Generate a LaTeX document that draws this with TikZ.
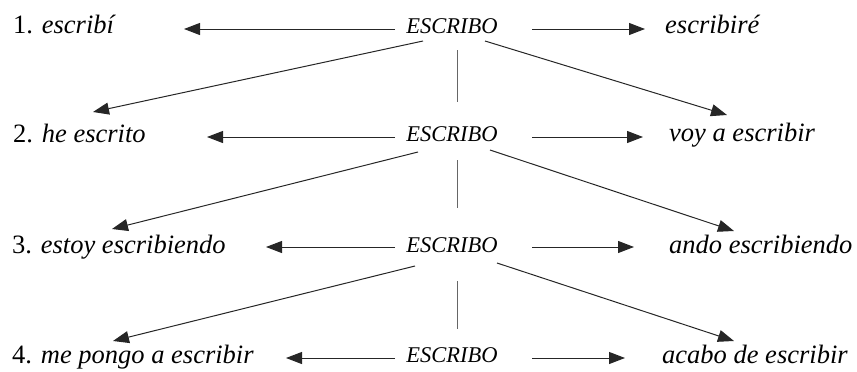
\documentclass[tikz,border=0pt]{standalone}
\usepackage{fontspec}
\setmainfont{Liberation Serif}
\usetikzlibrary{arrows.meta}
\begin{document}
\begin{tikzpicture}[x=1pt,y=-1pt,
  form/.style={anchor=base west,inner sep=0pt,font=\fontsize{26.5}{30}\selectfont},
  verb/.style={anchor=base,inner sep=0pt,font=\fontsize{22.5}{26}\selectfont\itshape},
  link/.style={draw=black!85,line width=1pt,
    -{Triangle[length=16pt,width=12pt]}},
  tie/.style={draw=black!60,line width=0.9pt}]
\useasboundingbox (0,0) rectangle (857,372);

% central verb, one per row
\node[verb] (e1) at (452,33)  {ESCRIBO};
\node[verb] (e2) at (452,141) {ESCRIBO};
\node[verb] (e3) at (452,252) {ESCRIBO};
\node[verb] (e4) at (452,362) {ESCRIBO};

% forms on the left
\node[form] (l1) at (13,33)  {1. \textit{escribí}};
\node[form] (l2) at (13,142) {2. \textit{he escrito}};
\node[form] (l3) at (12,253) {3. \textit{estoy escribiendo}};
\node[form] (l4) at (12,363) {4. \textit{me pongo a escribir}};

% forms on the right
\node[form] (r1) at (665,33)  {\textit{escribiré}};
\node[form] (r2) at (669,141) {\textit{voy a escribir}};
\node[form] (r3) at (669,253) {\textit{ando escribiendo}};
\node[form] (r4) at (662,363) {\textit{acabo de escribir}};

% arrow tips
\coordinate (hl1) at (184,29);  \coordinate (hr1) at (645,29);
\coordinate (hl2) at (207,137); \coordinate (hr2) at (643,137);
\coordinate (hl3) at (266,247); \coordinate (hr3) at (634,247);
\coordinate (hl4) at (286,358); \coordinate (hr4) at (625,358);
\coordinate (dl1) at (93,112);  \coordinate (dr1) at (727,115);
\coordinate (dl2) at (112,229); \coordinate (dr2) at (734,231);
\coordinate (dl3) at (113,341); \coordinate (dr3) at (734,341);

% horizontal arrows
\draw[link] ([shift={(-57,-4)}]e1.base) -- (hl1);
\draw[link] ([shift={(-57,-4)}]e2.base) -- (hl2);
\draw[link] ([shift={(-57,-5)}]e3.base) -- (hl3);
\draw[link] ([shift={(-57,-4)}]e4.base) -- (hl4);
\draw[link] ([shift={(80,-4)}]e1.base) -- (hr1);
\draw[link] ([shift={(80,-4)}]e2.base) -- (hr2);
\draw[link] ([shift={(80,-5)}]e3.base) -- (hr3);
\draw[link] ([shift={(80,-4)}]e4.base) -- (hr4);

% slanted arrows to the next row
\draw[link] ([shift={(-29,8)}]e1.base) -- (dl1);
\draw[link] ([shift={(33,8)}]e1.base) -- (dr1);
\draw[link] ([shift={(-34,11)}]e2.base) -- (dl2);
\draw[link] ([shift={(38,9)}]e2.base) -- (dr2);
\draw[link] ([shift={(-37,14)}]e3.base) -- (dl3);
\draw[link] ([shift={(45,11)}]e3.base) -- (dr3);

% vertical ties between the verbs
\draw[tie] ([shift={(5,17)}]e1.base) -- ([shift={(5,-39)}]e2.base);
\draw[tie] ([shift={(5,19)}]e2.base) -- ([shift={(5,-44)}]e3.base);
\draw[tie] ([shift={(5,29)}]e3.base) -- ([shift={(5,-33)}]e4.base);
\end{tikzpicture}
\end{document}
